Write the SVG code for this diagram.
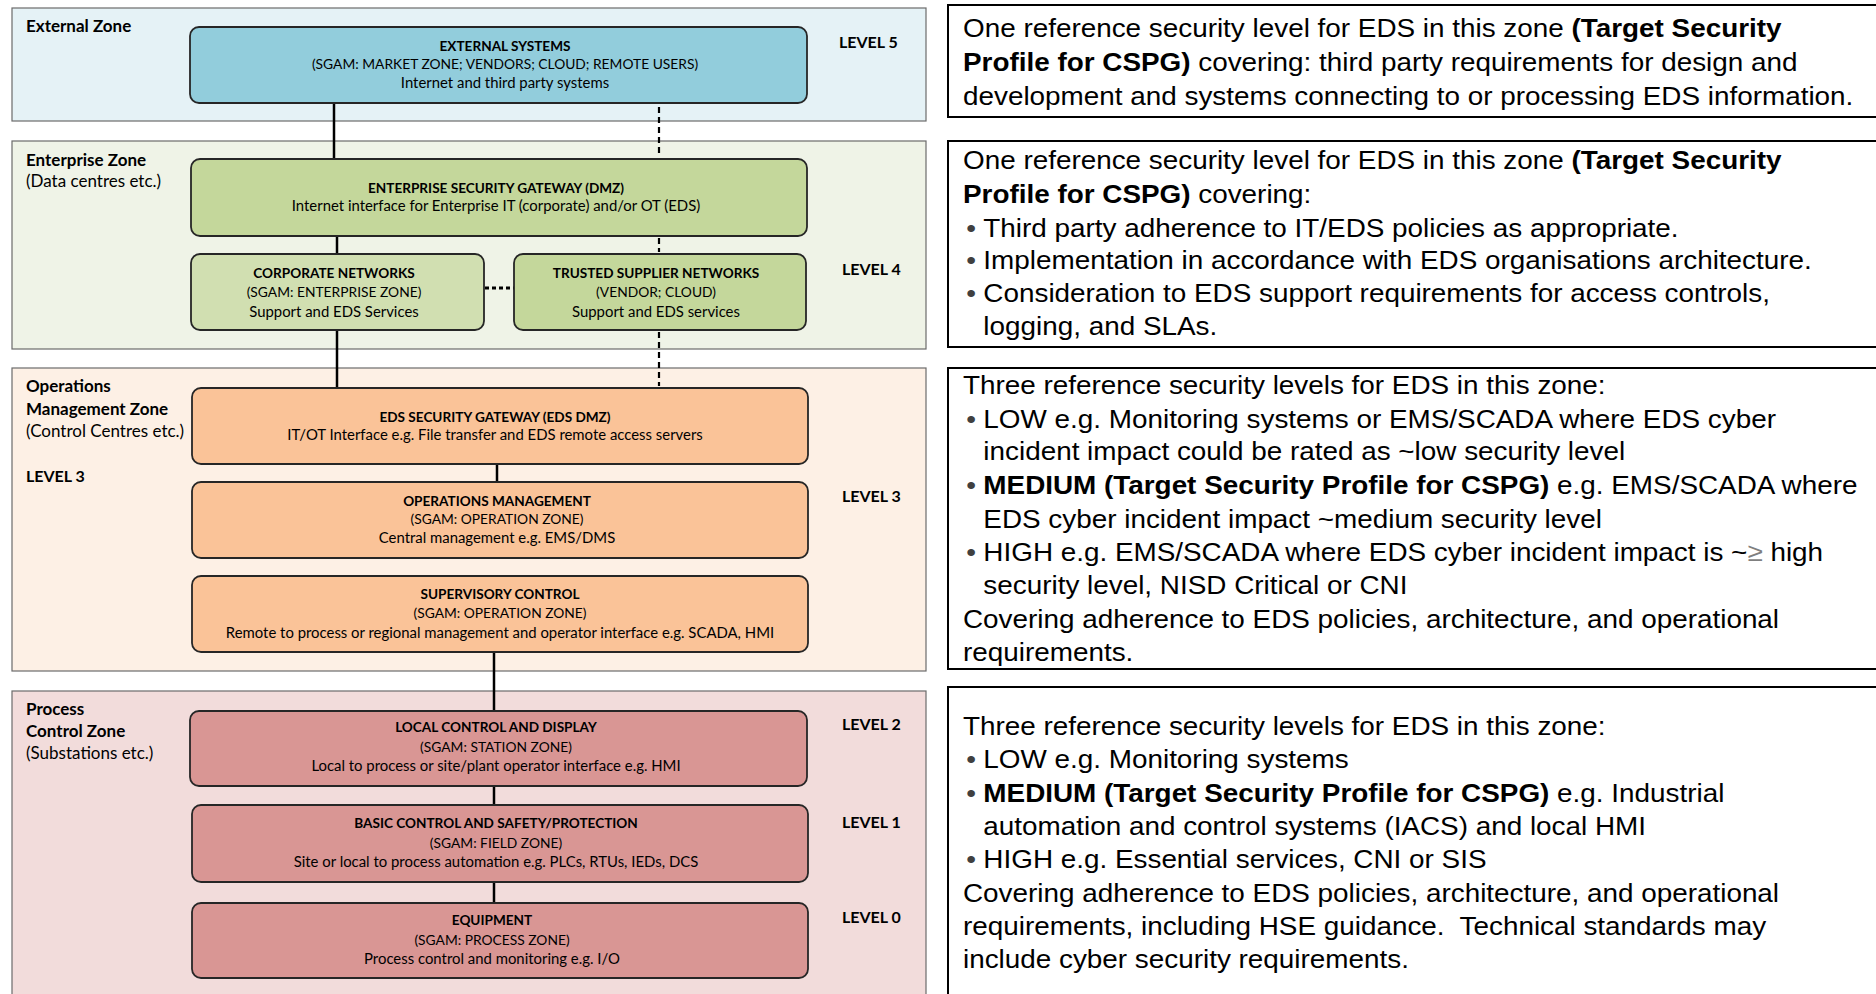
<svg xmlns="http://www.w3.org/2000/svg" width="1876" height="994" viewBox="0 0 1876 994">
<style>
.zone{stroke:#6b6b6b;stroke-width:1.2}
.node{stroke:#262626;stroke-width:1.8}
.t{font-family:Lato,"Liberation Sans",sans-serif;font-size:13.8px;fill:#000;text-anchor:middle}
.m{font-size:14.9px}
.tb{font-weight:bold;font-size:13.6px}
.zl{font-family:Lato,"Liberation Sans",sans-serif;font-size:17px;fill:#000}
.lv{font-size:16px}
.b{font-weight:bold}
.c{stroke:#000;stroke-width:2.5;fill:none}
.d{stroke:#000;stroke-width:2.2;fill:none;stroke-dasharray:6 4}
.dot{stroke:#000;stroke-width:3;fill:none;stroke-dasharray:4 3}
.rb{fill:#fff;stroke:#000;stroke-width:2}
.r{font-family:"Liberation Sans",Arial,sans-serif;font-size:26px;fill:#000}
.bu{fill:#404040}
</style>
<rect width="1876" height="994" fill="#fff"/>
<g id="zones">
<rect class="zone" x="12" y="8" width="914" height="113" fill="#e5f2f6"/>
<rect class="zone" x="12" y="141" width="914" height="208" fill="#eff3e7"/>
<rect class="zone" x="12" y="368" width="914" height="303" fill="#fdf0e5"/>
<rect class="zone" x="12" y="691" width="914" height="320" fill="#f2dcdb"/>
<text class="zl b" x="26" y="32">External Zone</text>
<text class="zl b" x="26" y="166">Enterprise Zone</text>
<text class="zl" x="26" y="187">(Data centres etc.)</text>
<text class="zl b" x="26" y="392">Operations</text>
<text class="zl b" x="26" y="415">Management Zone</text>
<text class="zl" x="26" y="437">(Control Centres etc.)</text>
<text class="zl lv b" x="26" y="482">LEVEL 3</text>
<text class="zl b" x="26" y="715">Process</text>
<text class="zl b" x="26" y="737">Control Zone</text>
<text class="zl" x="26" y="759">(Substations etc.)</text>
<text class="zl lv b" x="839" y="48">LEVEL 5</text>
<text class="zl lv b" x="842" y="275">LEVEL 4</text>
<text class="zl lv b" x="842" y="502">LEVEL 3</text>
<text class="zl lv b" x="842" y="730">LEVEL 2</text>
<text class="zl lv b" x="842" y="828">LEVEL 1</text>
<text class="zl lv b" x="842" y="923">LEVEL 0</text>
</g>
<g id="connectors">
<line class="c" x1="334" y1="103" x2="334" y2="159"/>
<line class="d" x1="659" y1="107" x2="659" y2="157"/>
<line class="c" x1="337" y1="236" x2="337" y2="254"/>
<line class="d" x1="659" y1="238" x2="659" y2="252"/>
<line class="dot" x1="485" y1="288" x2="514" y2="288"/>
<line class="c" x1="337" y1="330" x2="337" y2="388"/>
<line class="d" x1="659" y1="332" x2="659" y2="386"/>
<line class="c" x1="497" y1="464" x2="497" y2="482"/>
<line class="c" x1="494" y1="652" x2="494" y2="711"/>
<line class="c" x1="494" y1="786" x2="494" y2="805"/>
<line class="c" x1="494" y1="882" x2="494" y2="903"/>
</g>
<g id="external-systems">
<rect class="node" x="190" y="27" width="617" height="76" rx="9" fill="#92cddc"/>
<text class="t tb" x="505" y="51">EXTERNAL SYSTEMS</text>
<text class="t" x="505" y="69">(SGAM: MARKET ZONE; VENDORS; CLOUD; REMOTE USERS)</text>
<text class="t m" x="505" y="88">Internet and third party systems</text>
</g>
<g id="enterprise-gateway">
<rect class="node" x="191" y="159" width="616" height="77" rx="9" fill="#c4d79b"/>
<text class="t tb" x="496" y="193">ENTERPRISE SECURITY GATEWAY (DMZ)</text>
<text class="t m" x="496" y="211">Internet interface for Enterprise IT (corporate) and/or OT (EDS)</text>
</g>
<g id="corporate-networks">
<rect class="node" x="191" y="254" width="293" height="76" rx="9" fill="#d1dfb1"/>
<text class="t tb" x="334" y="278">CORPORATE NETWORKS</text>
<text class="t" x="334" y="297">(SGAM: ENTERPRISE ZONE)</text>
<text class="t m" x="334" y="317">Support and EDS Services</text>
</g>
<g id="trusted-supplier-networks">
<rect class="node" x="514" y="254" width="292" height="76" rx="9" fill="#c4d79b"/>
<text class="t tb" x="656" y="278">TRUSTED SUPPLIER NETWORKS</text>
<text class="t" x="656" y="297">(VENDOR; CLOUD)</text>
<text class="t m" x="656" y="317">Support and EDS services</text>
</g>
<g id="eds-gateway">
<rect class="node" x="192" y="388" width="616" height="76" rx="9" fill="#fac398"/>
<text class="t tb" x="495" y="422">EDS SECURITY GATEWAY (EDS DMZ)</text>
<text class="t m" x="495" y="440">IT/OT Interface e.g. File transfer and EDS remote access servers</text>
</g>
<g id="operations-management">
<rect class="node" x="192" y="482" width="616" height="76" rx="9" fill="#fac398"/>
<text class="t tb" x="497" y="506">OPERATIONS MANAGEMENT</text>
<text class="t" x="497" y="524">(SGAM: OPERATION ZONE)</text>
<text class="t m" x="497" y="543">Central management e.g. EMS/DMS</text>
</g>
<g id="supervisory-control">
<rect class="node" x="192" y="576" width="616" height="76" rx="9" fill="#fac398"/>
<text class="t tb" x="500" y="599">SUPERVISORY CONTROL</text>
<text class="t" x="500" y="618">(SGAM: OPERATION ZONE)</text>
<text class="t m" x="500" y="638">Remote to process or regional management and operator interface e.g. SCADA, HMI</text>
</g>
<g id="local-control">
<rect class="node" x="190" y="711" width="617" height="75" rx="9" fill="#d99694"/>
<text class="t tb" x="496" y="732">LOCAL CONTROL AND DISPLAY</text>
<text class="t" x="496" y="752">(SGAM: STATION ZONE)</text>
<text class="t m" x="496" y="771">Local to process or site/plant operator interface e.g. HMI</text>
</g>
<g id="basic-control">
<rect class="node" x="192" y="805" width="616" height="77" rx="9" fill="#d99694"/>
<text class="t tb" x="496" y="828">BASIC CONTROL AND SAFETY/PROTECTION</text>
<text class="t" x="496" y="848">(SGAM: FIELD ZONE)</text>
<text class="t m" x="496" y="867">Site or local to process automation e.g. PLCs, RTUs, IEDs, DCS</text>
</g>
<g id="equipment">
<rect class="node" x="192" y="903" width="616" height="75" rx="9" fill="#d99694"/>
<text class="t tb" x="492" y="925">EQUIPMENT</text>
<text class="t" x="492" y="945">(SGAM: PROCESS ZONE)</text>
<text class="t m" x="492" y="964">Process control and monitoring e.g. I/O</text>
</g>
<g id="desc-external">
<rect class="rb" x="948" y="5" width="940" height="112"/>
<g transform="translate(963 0) scale(1.072 1) translate(-963 0)">
<text class="r" x="963" y="37">One reference security level for EDS in this zone <tspan class="b">(Target Security</tspan></text>
<text class="r" x="963" y="71"><tspan class="b">Profile for CSPG)</tspan> covering: third party requirements for design and</text>
<text class="r" x="963" y="105">development and systems connecting to or processing EDS information.</text>
</g>
</g>
<g id="desc-enterprise">
<rect class="rb" x="948" y="141" width="940" height="206"/>
<g transform="translate(963 0) scale(1.072 1) translate(-963 0)">
<text class="r" x="963" y="169">One reference security level for EDS in this zone <tspan class="b">(Target Security</tspan></text>
<text class="r" x="963" y="203"><tspan class="b">Profile for CSPG)</tspan> covering:</text>
<text class="r bu" x="966" y="237">•</text>
<text class="r" x="982" y="237">Third party adherence to IT/EDS policies as appropriate.</text>
<text class="r bu" x="966" y="269">•</text>
<text class="r" x="982" y="269">Implementation in accordance with EDS organisations architecture.</text>
<text class="r bu" x="966" y="302">•</text>
<text class="r" x="982" y="302">Consideration to EDS support requirements for access controls,</text>
<text class="r" x="982" y="335">logging, and SLAs.</text>
</g>
</g>
<g id="desc-operations">
<rect class="rb" x="948" y="368" width="940" height="301"/>
<g transform="translate(963 0) scale(1.072 1) translate(-963 0)">
<text class="r" x="963" y="394">Three reference security levels for EDS in this zone:</text>
<text class="r bu" x="966" y="428">•</text>
<text class="r" x="982" y="428">LOW e.g. Monitoring systems or EMS/SCADA where EDS cyber</text>
<text class="r" x="982" y="460">incident impact could be rated as ~low security level</text>
<text class="r bu" x="966" y="494">•</text>
<text class="r" x="982" y="494"><tspan class="b">MEDIUM (Target Security Profile for CSPG)</tspan> e.g. EMS/SCADA where</text>
<text class="r" x="982" y="528">EDS cyber incident impact ~medium security level</text>
<text class="r bu" x="966" y="561">•</text>
<text class="r" x="982" y="561">HIGH e.g. EMS/SCADA where EDS cyber incident impact is ~<tspan fill="#7f7f7f">≥</tspan> high</text>
<text class="r" x="982" y="594">security level, NISD Critical or CNI</text>
<text class="r" x="963" y="628">Covering adherence to EDS policies, architecture, and operational</text>
<text class="r" x="963" y="661">requirements.</text>
</g>
</g>
<g id="desc-process">
<rect class="rb" x="948" y="687" width="940" height="320"/>
<g transform="translate(963 0) scale(1.072 1) translate(-963 0)">
<text class="r" x="963" y="735">Three reference security levels for EDS in this zone:</text>
<text class="r bu" x="966" y="768">•</text>
<text class="r" x="982" y="768">LOW e.g. Monitoring systems</text>
<text class="r bu" x="966" y="802">•</text>
<text class="r" x="982" y="802"><tspan class="b">MEDIUM (Target Security Profile for CSPG)</tspan> e.g. Industrial</text>
<text class="r" x="982" y="835">automation and control systems (IACS) and local HMI</text>
<text class="r bu" x="966" y="868">•</text>
<text class="r" x="982" y="868">HIGH e.g. Essential services, CNI or SIS</text>
<text class="r" x="963" y="902">Covering adherence to EDS policies, architecture, and operational</text>
<text class="r" x="963" y="935" xml:space="preserve">requirements, including HSE guidance.  Technical standards may</text>
<text class="r" x="963" y="968">include cyber security requirements.</text>
</g>
</g>
</svg>
